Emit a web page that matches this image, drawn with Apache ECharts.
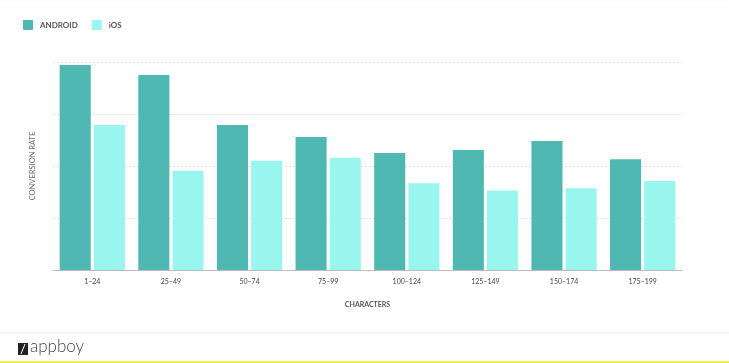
<!DOCTYPE html>
<html><head><meta charset="utf-8">
<script src="https://cdn.jsdelivr.net/npm/echarts@6/dist/echarts.min.js"></script>
<style>html,body{margin:0;padding:0;background:#fff}#c{width:729px;height:363px}</style>
</head><body><div id="c"></div>
<script>
var categories = ['1–24','25–49','50–74','75–99','100–124','125–149','150–174','175–199'];
var android = [3.94, 3.75, 2.79, 2.56, 2.25, 2.31, 2.48, 2.13];
var ios = [2.79, 1.91, 2.10, 2.16, 1.67, 1.53, 1.57, 1.71];
var seriesNames = ['ANDROID', 'iOS'];

var chart = echarts.init(document.getElementById('c'), null, {renderer: 'canvas'});
chart.setOption({
  backgroundColor: '#ffffff',
  animation: false,
  legend: {
    left: 23, top: 20, padding: 0, itemWidth: 10, itemHeight: 10, itemGap: 14,
    icon: 'rect',
    textStyle: {fontFamily: 'Lato', fontSize: 8, color: '#555', fontWeight: 'bold', padding: [0, 0, 0, 2]},
    data: seriesNames
  },
  grid: {left: 53, right: 47, top: 62, bottom: 93},
  xAxis: {
    type: 'category', data: categories,
    name: 'CHARACTERS', nameLocation: 'middle', nameGap: 31,
    nameTextStyle: {fontFamily: 'Lato', fontSize: 7, color: '#555', fontWeight: 'bold'},
    axisLine: {lineStyle: {color: '#bbb', width: 1}},
    axisTick: {show: false},
    axisLabel: {fontFamily: 'Lato', fontSize: 7, color: '#444', margin: 8}
  },
  yAxis: {
    type: 'value', min: 0, max: 4, interval: 1,
    name: 'CONVERSION RATE', nameLocation: 'middle', nameGap: 16, nameRotate: 90,
    nameTextStyle: {fontFamily: 'Lato', fontSize: 7.5, color: '#666', fontWeight: 'normal'},
    axisLabel: {show: false},
    axisLine: {show: false}, axisTick: {show: false},
    splitLine: {lineStyle: {color: '#ddd', type: [2, 2], width: 1}}
  },
  series: [
    {name: seriesNames[0], type: 'bar', data: android, barGap: '10%', barCategoryGap: '17%',
     itemStyle: {color: '#4fb8b2'}},
    {name: seriesNames[1], type: 'bar', data: ios,
     itemStyle: {color: '#99f6ef'}}
  ],
  graphic: [
    {type: 'line', shape: {x1: 0, y1: 1, x2: 729, y2: 1}, style: {stroke: '#eee', lineWidth: 1, lineDash: [1, 2]}},
    {type: 'line', shape: {x1: 0, y1: 333, x2: 729, y2: 333}, style: {stroke: '#eee', lineWidth: 1}},
    {type: 'line', shape: {x1: 0, y1: 362, x2: 729, y2: 362}, style: {stroke: '#f3ee4a', lineWidth: 2}},
    {type: 'rect', shape: {x: 18, y: 343, width: 10, height: 12}, style: {fill: '#222'}},
    {type: 'line', shape: {x1: 21, y1: 354, x2: 25, y2: 344}, style: {stroke: '#fff', lineWidth: 1}},
    {type: 'text', left: 30, top: 338, style: {text: 'appboy', font: '300 17px Lato', fill: '#444'}}
  ]
});
</script></body></html>
